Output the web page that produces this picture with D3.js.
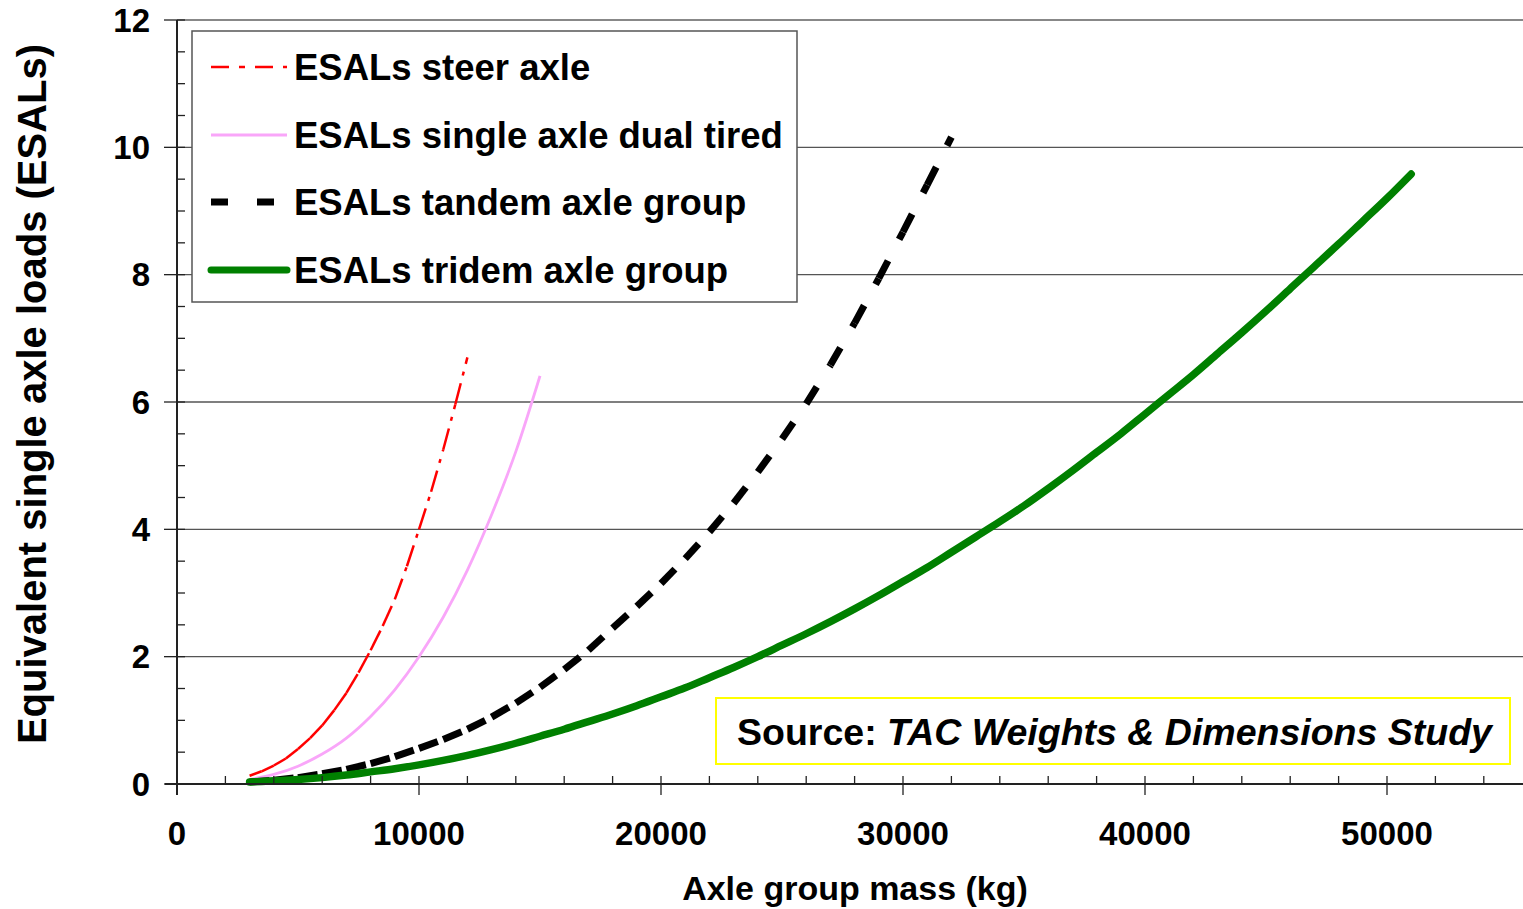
<!DOCTYPE html>
<html>
<head>
<meta charset="utf-8">
<script src="https://cdn.jsdelivr.net/npm/d3@7/dist/d3.min.js"></script>
<style>
  html, body { margin: 0; padding: 0; background: #fff; }
  svg { display: block; font-family: "Liberation Sans", Arial, sans-serif; }
</style>
</head>
<body>
<svg id="chart" width="1523" height="909"></svg>
<script>
// ---------- data ----------
const seriesNames = [
  "ESALs steer axle",
  "ESALs single axle dual tired",
  "ESALs tandem axle group",
  "ESALs tridem axle group"
];

const steerMass = [3000,3500,4000,4500,5000,5500,6000,6500,7000,7500,8000,8500,9000,9500,10000,10500,11000,11500,12000];
const steerEsal = [0.13,0.20,0.29,0.40,0.55,0.72,0.92,1.16,1.43,1.75,2.10,2.48,2.90,3.42,4.00,4.59,5.25,5.96,6.70];

const singleMass = [3000,4000,5000,6000,7000,8000,9000,10000,11000,12000,13000,14000,15000];
const singleEsal = [0.07,0.15,0.28,0.47,0.72,1.06,1.48,2.00,2.62,3.36,4.23,5.22,6.41];

const tandemMass = [3000,4000,5000,6000,7000,8000,9000,10000,11000,12000,13000,14000,15000,16000,17000,18000,19000,20000,21000,22000,23000,24000,25000,26000,27000,28000,29000,30000,31000,32000];
const tandemEsal = [0.03,0.06,0.10,0.16,0.23,0.32,0.43,0.56,0.70,0.86,1.05,1.27,1.52,1.80,2.10,2.45,2.79,3.15,3.54,3.96,4.41,4.90,5.42,5.97,6.58,7.24,7.94,8.67,9.41,10.16];

const tridemMass = [3000,4000,5000,6000,7000,8000,9000,10000,11000,12000,13000,14000,15000,16000,17000,18000,19000,20000,21000,22000,23000,24000,25000,26000,27000,28000,29000,30000,31000,32000,33000,34000,35000,36000,37000,38000,39000,40000,41000,42000,43000,44000,45000,46000,47000,48000,49000,50000,51000];
const tridemEsal = [0.03,0.05,0.07,0.10,0.14,0.19,0.24,0.30,0.37,0.45,0.54,0.64,0.75,0.86,0.98,1.10,1.23,1.37,1.51,1.67,1.83,2.00,2.18,2.36,2.55,2.75,2.96,3.18,3.40,3.64,3.88,4.12,4.37,4.64,4.92,5.21,5.50,5.81,6.12,6.43,6.76,7.09,7.43,7.78,8.13,8.48,8.84,9.20,9.58];

const xMajorTicks = [0,10000,20000,30000,40000,50000];
const xTickLabels = ["0","10000","20000","30000","40000","50000"];
const yMajorTicks = [0,2,4,6,8,10,12];
const yTickLabels = ["0","2","4","6","8","10","12"];

const xTitle = "Axle group mass (kg)";
const yTitle = "Equivalent single axle loads (ESALs)";
const sourceLabel = "Source: ";
const sourceTitle = "TAC Weights & Dimensions Study";

// ---------- layout ----------
const W = 1523, H = 909;
const svg = d3.select("#chart");
svg.append("rect").attr("width", W).attr("height", H).attr("fill", "#fff");

const x = d3.scaleLinear().domain([0, 56000]).range([177, 177 + 56 * 24.2]);
const y = d3.scaleLinear().domain([0, 12]).range([784, 20]);
const plotRight = W;

// gridlines
svg.append("g").selectAll("line")
  .data(yMajorTicks.filter(v => v > 0))
  .join("line")
  .attr("x1", x(0)).attr("x2", plotRight)
  .attr("y1", d => y(d)).attr("y2", d => y(d))
  .attr("stroke", d => d === 12 ? "#888" : "#555")
  .attr("stroke-width", d => d === 12 ? 2 : 1.3);

// ---------- series ----------
const gSeries = svg.append("g");
const straight = d3.line().x(d => x(d[0])).y(d => y(d[1]));
const smooth = d3.line().x(d => x(d[0])).y(d => y(d[1])).curve(d3.curveMonotoneX);

// Excel-like: the dash pattern restarts at every data point
function drawSegmented(mass, esal, color, width, dash) {
  const g = gSeries.append("g");
  for (let i = 0; i < mass.length - 1; i++) {
    g.append("path")
      .attr("d", straight([[mass[i], esal[i]], [mass[i + 1], esal[i + 1]]]))
      .attr("fill", "none")
      .attr("stroke", color)
      .attr("stroke-width", width)
      .attr("stroke-linecap", "butt")
      .attr("stroke-dasharray", dash);
  }
}

// steer axle: red dash-dot
drawSegmented(steerMass, steerEsal, "#ff0000", 2.5, "22,8,4,8");

// single axle dual tired: light pink
gSeries.append("path")
  .attr("d", smooth(d3.zip(singleMass, singleEsal)))
  .attr("fill", "none")
  .attr("stroke", "#f9a6f9")
  .attr("stroke-width", 2.8);

// tandem: thick black dashes
drawSegmented(tandemMass, tandemEsal, "#000", 7, "20,24");

// tridem: thick green solid
gSeries.append("path")
  .attr("d", smooth(d3.zip(tridemMass, tridemEsal)))
  .attr("fill", "none")
  .attr("stroke", "#008000")
  .attr("stroke-width", 7.5)
  .attr("stroke-linecap", "round")
  .attr("stroke-linejoin", "round");

// ---------- axes ----------
const axisG = svg.append("g");
axisG.append("line").attr("x1", x(0) - 12).attr("x2", plotRight)
  .attr("y1", y(0)).attr("y2", y(0)).attr("stroke", "#222").attr("stroke-width", 2);
axisG.append("line").attr("x1", x(0)).attr("x2", x(0))
  .attr("y1", y(12)).attr("y2", y(0) + 11).attr("stroke", "#222").attr("stroke-width", 2);

// x ticks (minor every 2000, major every 10000)
axisG.append("g").selectAll("line")
  .data(d3.range(0, 56001, 2000))
  .join("line")
  .attr("x1", d => x(d)).attr("x2", d => x(d))
  .attr("y1", y(0) - 8).attr("y2", d => xMajorTicks.includes(d) ? y(0) + 11 : y(0))
  .attr("stroke", "#222").attr("stroke-width", 1.3);

// y ticks (minor every 0.5, major every 2)
axisG.append("g").selectAll("line")
  .data(d3.range(0, 12.01, 0.5))
  .join("line")
  .attr("y1", d => y(d)).attr("y2", d => y(d))
  .attr("x1", d => yMajorTicks.includes(d) ? x(0) - 13 : x(0)).attr("x2", x(0) + 8)
  .attr("stroke", "#222").attr("stroke-width", 1.3);

// tick labels
axisG.append("g").selectAll("text")
  .data(xMajorTicks)
  .join("text")
  .attr("x", d => x(d)).attr("y", 845)
  .attr("text-anchor", "middle")
  .attr("font-size", 33).attr("font-weight", "bold")
  .text((d, i) => xTickLabels[i]);

axisG.append("g").selectAll("text")
  .data(yMajorTicks)
  .join("text")
  .attr("x", 150).attr("y", d => y(d))
  .attr("dy", "0.35em")
  .attr("text-anchor", "end")
  .attr("font-size", 33).attr("font-weight", "bold")
  .text((d, i) => yTickLabels[i]);

// axis titles
svg.append("text")
  .attr("x", 855).attr("y", 900)
  .attr("text-anchor", "middle")
  .attr("font-size", 34).attr("font-weight", "bold")
  .text(xTitle);

svg.append("text")
  .attr("transform", "translate(46,394) rotate(-90)")
  .attr("text-anchor", "middle")
  .attr("font-size", 40).attr("font-weight", "bold")
  .text(yTitle);

// ---------- legend ----------
const leg = svg.append("g");
leg.append("rect").attr("x", 192).attr("y", 31).attr("width", 605).attr("height", 271)
  .attr("fill", "#fff").attr("stroke", "#555").attr("stroke-width", 1.5);
const rowY = [67, 135, 202, 270];
const legStyles = [
  { color: "#ff0000", width: 2.5, dash: "18,10,6,10", cap: "butt" },
  { color: "#f9a6f9", width: 3, dash: null, cap: "butt" },
  { color: "#000", width: 7, dash: "17,29", cap: "butt" },
  { color: "#008000", width: 7, dash: null, cap: "round" }
];
seriesNames.forEach((name, i) => {
  const s = legStyles[i];
  leg.append("line")
    .attr("x1", 211).attr("x2", 287)
    .attr("y1", rowY[i]).attr("y2", rowY[i])
    .attr("stroke", s.color).attr("stroke-width", s.width)
    .attr("stroke-linecap", s.cap)
    .attr("stroke-dasharray", s.dash);
  leg.append("text")
    .attr("x", 294).attr("y", rowY[i] + 13)
    .attr("font-size", 36.5).attr("font-weight", "bold")
    .text(name);
});

// ---------- source box ----------
const src = svg.append("g");
src.append("rect").attr("x", 716).attr("y", 698).attr("width", 794).attr("height", 66)
  .attr("fill", "#fff").attr("stroke", "#ffff00").attr("stroke-width", 2);
const st = src.append("text").attr("x", 737).attr("y", 745)
  .attr("font-size", 37.5).attr("font-weight", "bold");
st.append("tspan").text(sourceLabel);
st.append("tspan").attr("font-style", "italic").text(sourceTitle);
</script>
</body>
</html>
